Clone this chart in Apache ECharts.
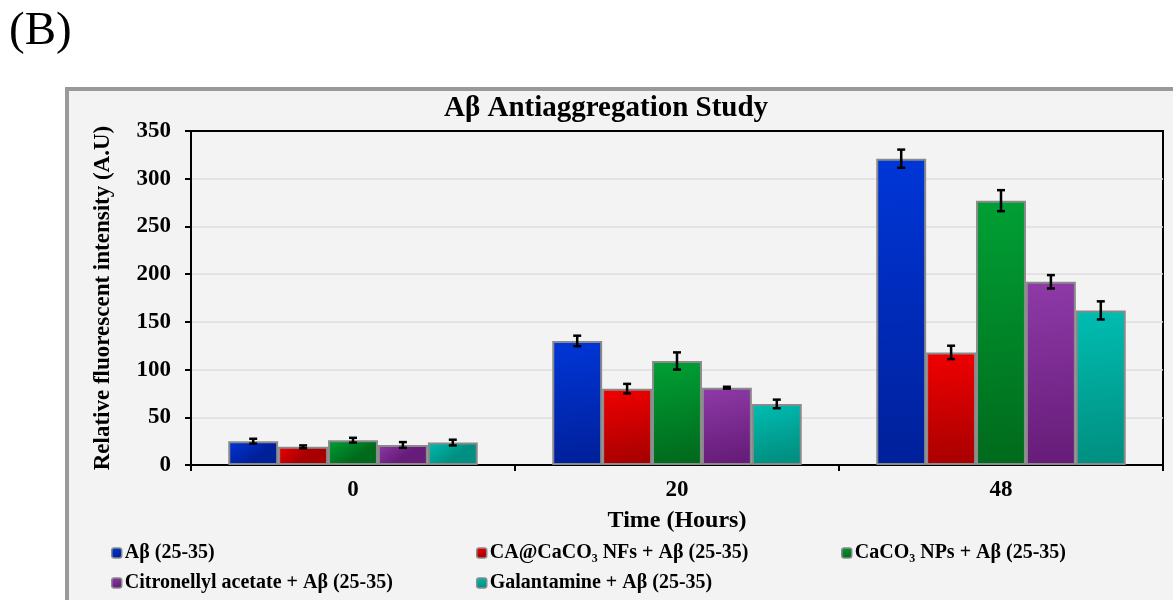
<!DOCTYPE html>
<html>
<head>
<meta charset="utf-8">
<script src="https://cdn.jsdelivr.net/npm/echarts@6/dist/echarts.min.js"></script>
<style>
    html, body { margin: 0; padding: 0; background: #fff; }
    #main { width: 1173px; height: 600px; }
</style>
</head>
<body>
<div id="main"></div>
<script>
// --------------------------------------------------------------------------------------------------------------------
var categories = ['0', '20', '48'];
var seriesNames = [
    'A\u03b2 (25-35)',
    'CA@CaCO\u2083 NFs + A\u03b2 (25-35)',
    'CaCO\u2083 NPs + A\u03b2 (25-35)',
    'Citronellyl acetate + A\u03b2 (25-35)',
    'Galantamine + A\u03b2 (25-35)'
];
var abValues = [25, 130, 321];
var caNfValues = [19, 80, 118];
var caco3Values = [26, 109, 277];
var citronellylValues = [21, 81, 192];
var galantamineValues = [23.5, 64, 162];

var abErrors = [2.5, 5.5, 9.5];
var caNfErrors = [1.5, 5, 7];
var caco3Errors = [2.5, 9, 11];
var citronellylErrors = [3, 1, 7];
var galantamineErrors = [3, 4.5, 9.5];

var yTicks = [0, 50, 100, 150, 200, 250, 300, 350];
// --------------------------------------------------------------------------------------------------------------------
var allValues = [abValues, caNfValues, caco3Values, citronellylValues, galantamineValues];
var allErrors = [abErrors, caNfErrors, caco3Errors, citronellylErrors, galantamineErrors];
var colorPairs = [
    ['#0036d8', '#00209a'],
    ['#f20000', '#a80000'],
    ['#00a035', '#006a1c'],
    ['#8e3aa8', '#661c78'],
    ['#00bdb2', '#008f80']
];
var FONT = "'Liberation Serif', 'Times New Roman', serif";
var CAT_GAP = 0.23;

function gradient(pair) {
    return new echarts.graphic.LinearGradient(0, 0, 0.3, 1, [
        { offset: 0, color: pair[0] },
        { offset: 1, color: pair[1] }
    ]);
}

var series = [];
for (var i = 0; i < allValues.length; i++) {
    series.push({
        name: seriesNames[i],
        type: 'bar',
        barGap: '0%',
        barCategoryGap: (CAT_GAP * 100) + '%',
        itemStyle: {
            color: gradient(colorPairs[i]),
            borderColor: '#8a8a8a',
            borderWidth: 2
        },
        data: allValues[i]
    });
}

var errorData = [];
for (var s = 0; s < allValues.length; s++) {
    for (var c = 0; c < categories.length; c++) {
        errorData.push([c, s, allValues[s][c], allErrors[s][c]]);
    }
}

series.push({
    type: 'custom',
    z: 10,
    silent: true,
    renderItem: function (params, api) {
        var cat = api.value(0);
        var idx = api.value(1);
        var val = api.value(2);
        var err = api.value(3);
        var band = api.size([1, 0])[0];
        var bw = band * (1 - CAT_GAP) / allValues.length;
        var center = api.coord([cat, val]);
        var x = center[0] + (idx - (allValues.length - 1) / 2) * bw;
        var top = api.coord([cat, val + err])[1];
        var bottom = api.coord([cat, val - err])[1];
        var cap = 4;
        var style = { stroke: '#000', lineWidth: 2.5 };
        return {
            type: 'group',
            children: [
                { type: 'line', shape: { x1: x, y1: top, x2: x, y2: bottom }, style: style },
                { type: 'line', shape: { x1: x - cap, y1: top, x2: x + cap, y2: top }, style: style },
                { type: 'line', shape: { x1: x - cap, y1: bottom, x2: x + cap, y2: bottom }, style: style }
            ]
        };
    },
    data: errorData
});

var legendPos = [[106, 538], [471, 538], [836, 538], [106, 568], [471, 568]];
var legends = [];
for (var l = 0; l < seriesNames.length; l++) {
    legends.push({
        data: [seriesNames[l]],
        left: legendPos[l][0],
        top: legendPos[l][1],
        itemWidth: 10,
        itemHeight: 10,
        itemGap: 4,
        selectedMode: false,
        itemStyle: { borderWidth: 1.5, borderColor: '#8a8a8a' },
        textStyle: { fontFamily: FONT, fontWeight: 'bold', fontSize: 20, color: '#000', padding: [0, 0, 0, -2] }
    });
}
// --------------------------------------------------------------------------------------------------------------------
var chart = echarts.init(document.getElementById('main'));
chart.setOption({
    animation: false,
    backgroundColor: '#fff',
    graphic: [
        {
            type: 'rect', z: -10,
            shape: { x: 67, y: 89, width: 1200, height: 600 },
            style: { fill: '#f3f3f3', stroke: '#999', lineWidth: 4 }
        },
        {
            type: 'text', left: 9, top: 8,
            style: { text: '(B)', font: '47px ' + FONT, fill: '#000' }
        }
    ],
    title: {
        text: 'A\u03b2 Antiaggregation Study',
        left: 444,
        top: 94,
        padding: 0,
        textStyle: { fontFamily: FONT, fontWeight: 'bold', fontSize: 29, color: '#000' }
    },
    legend: legends,
    grid: {
        left: 191, right: 10, top: 131, bottom: 135,
        show: true, borderColor: '#000', borderWidth: 2, backgroundColor: 'transparent'
    },
    xAxis: {
        type: 'category',
        data: categories,
        name: 'Time (Hours)',
        nameLocation: 'middle',
        nameGap: 44,
        nameTextStyle: { fontFamily: FONT, fontWeight: 'bold', fontSize: 24, color: '#000' },
        axisLine: { lineStyle: { color: '#000', width: 2 } },
        axisTick: { show: true, length: 6, lineStyle: { color: '#000', width: 2 } },
        axisLabel: { margin: 14, fontFamily: FONT, fontWeight: 'bold', fontSize: 23, color: '#000' }
    },
    yAxis: {
        type: 'value',
        min: yTicks[0],
        max: yTicks[yTicks.length - 1],
        interval: 50,
        name: 'Relative fluorescent intensity (A.U)',
        nameLocation: 'middle',
        nameGap: 76,
        nameTextStyle: { fontFamily: FONT, fontWeight: 'bold', fontSize: 23, color: '#000' },
        axisLine: { show: true, lineStyle: { color: '#000', width: 2 } },
        axisTick: { show: true, length: 6, lineStyle: { color: '#000', width: 2 } },
        axisLabel: { margin: 20, fontFamily: FONT, fontWeight: 'bold', fontSize: 23, color: '#000' },
        splitLine: { showMaxLine: false, lineStyle: { color: '#dedede', width: 1.5 } }
    },
    series: series
});
</script>
</body>
</html>
